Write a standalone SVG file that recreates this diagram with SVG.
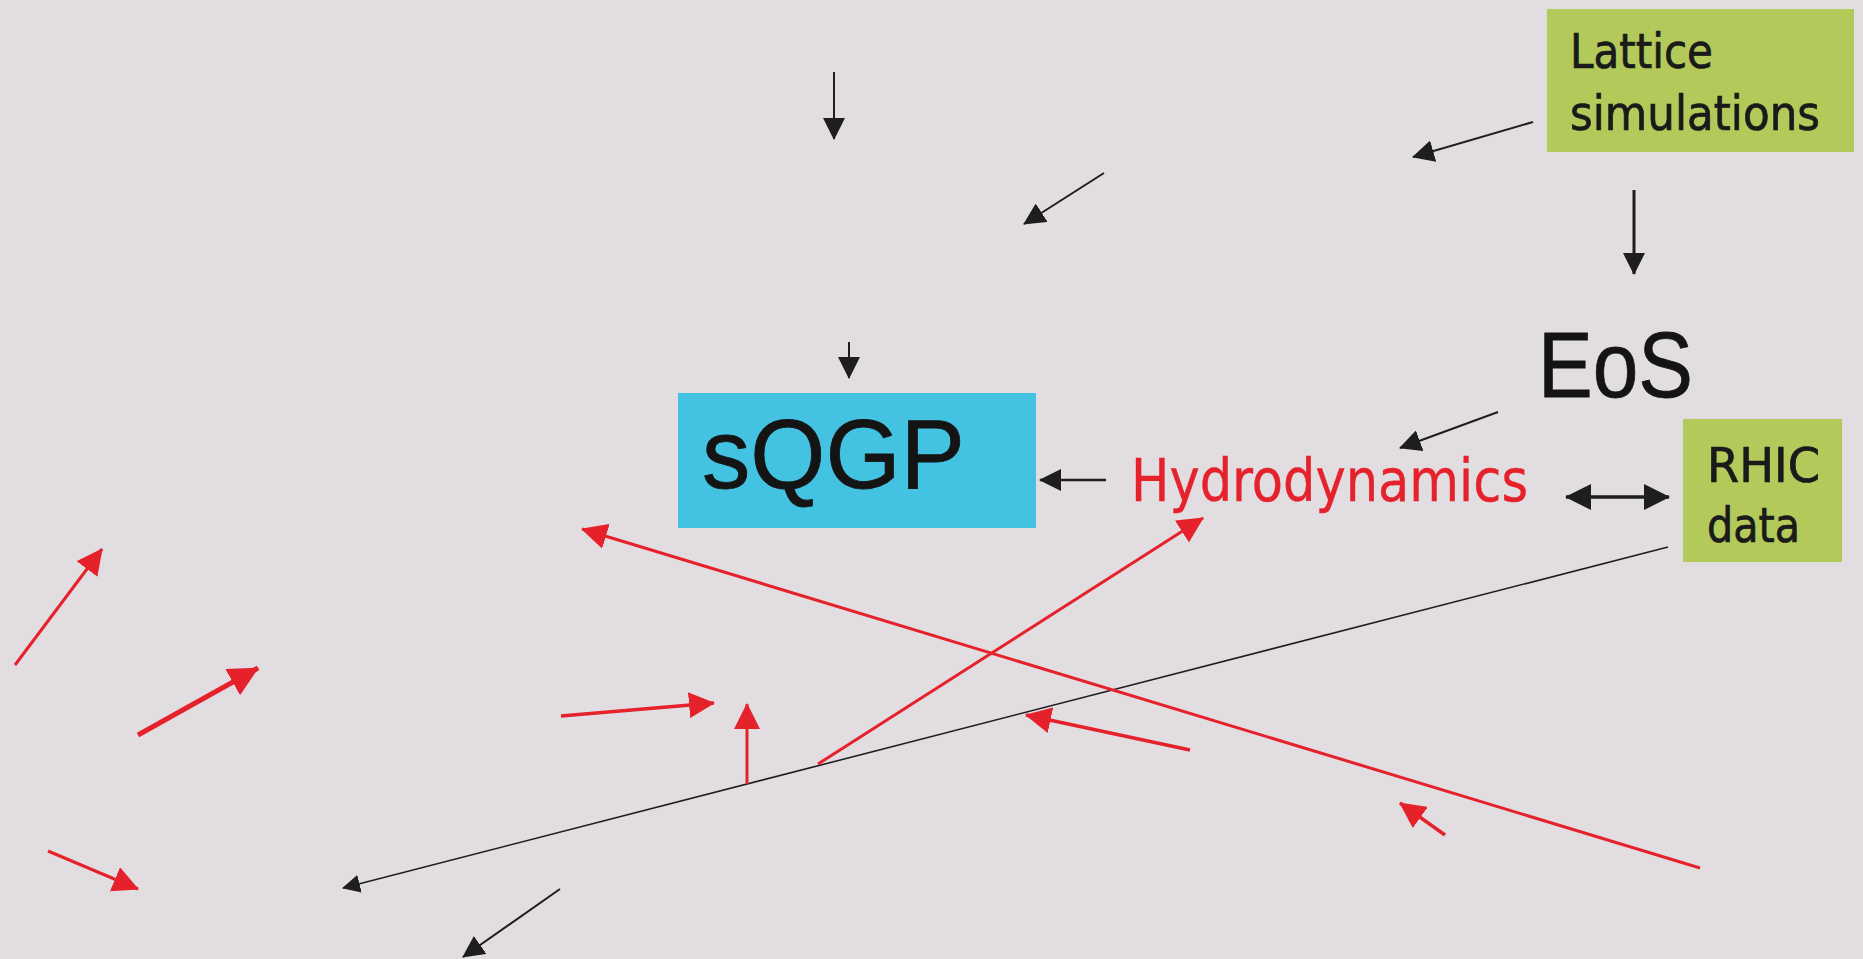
<svg xmlns="http://www.w3.org/2000/svg" width="1863" height="959" viewBox="0 0 1863 959">
  <defs>
    <style>
      .bk { stroke: #1e1e1e; fill: none; }
      .rd { stroke: #e5222b; fill: none; }
      .lbl { font-family: "DejaVu Sans Condensed", "DejaVu Sans", sans-serif; fill: #1a1a1a; stroke: #1a1a1a; stroke-width: 0.7; }
      .red { fill: #e5222b; stroke: #e5222b; stroke-width: 0.4; }
      .big { font-family: "Liberation Sans", Arial, sans-serif; fill: #141414; stroke: #141414; stroke-width: 0.8; }
    </style>
    <marker id="hk" viewBox="0 0 22 22" refX="21" refY="11" markerWidth="22" markerHeight="22" markerUnits="userSpaceOnUse" orient="auto">
      <path d="M0,0 L22,11 L0,22 z" fill="#1e1e1e"/>
    </marker>
    <marker id="hkd" viewBox="0 0 26 26" refX="25" refY="13" markerWidth="26" markerHeight="26" markerUnits="userSpaceOnUse" orient="auto-start-reverse">
      <path d="M0,0 L26,13 L0,26 z" fill="#1e1e1e"/>
    </marker>
    <marker id="hks" viewBox="0 0 18 18" refX="17" refY="9" markerWidth="18" markerHeight="18" markerUnits="userSpaceOnUse" orient="auto">
      <path d="M0,0 L18,9 L0,18 z" fill="#1e1e1e"/>
    </marker>
    <marker id="hr" viewBox="0 0 26 26" refX="25" refY="13" markerWidth="26" markerHeight="26" markerUnits="userSpaceOnUse" orient="auto">
      <path d="M0,0 L26,13 L0,26 z" fill="#e5222b"/>
    </marker>
    <marker id="hrb" viewBox="0 0 30 30" refX="29" refY="15" markerWidth="30" markerHeight="30" markerUnits="userSpaceOnUse" orient="auto">
      <path d="M0,0 L30,15 L0,30 z" fill="#e5222b"/>
    </marker>
  </defs>

  <rect width="1863" height="959" fill="#e2dde1"/>

  <g id="lattice">
    <rect x="1547" y="9" width="307" height="143" fill="#b3ca5b"/>
    <text class="lbl" x="1570" y="68" font-size="48" textLength="143" lengthAdjust="spacingAndGlyphs">Lattice</text>
    <text class="lbl" x="1570" y="130" font-size="48" textLength="250" lengthAdjust="spacingAndGlyphs">simulations</text>
  </g>

  <g id="eos">
    <text class="big" x="1538" y="397" font-size="93" textLength="155" lengthAdjust="spacingAndGlyphs">EoS</text>
  </g>

  <g id="rhic">
    <rect x="1683" y="419" width="159" height="143" fill="#b3ca5b"/>
    <text class="lbl" x="1707" y="482" font-size="48" textLength="113" lengthAdjust="spacingAndGlyphs">RHIC</text>
    <text class="lbl" x="1707" y="542" font-size="48" textLength="93" lengthAdjust="spacingAndGlyphs">data</text>
  </g>

  <g id="sqgp">
    <rect x="678" y="393" width="358" height="135" fill="#44c2e1"/>
    <text class="big" x="702" y="488" font-size="98" textLength="263" lengthAdjust="spacingAndGlyphs">sQGP</text>
  </g>

  <g id="hydro">
    <text class="red" x="1131" y="501" font-size="58" font-family="DejaVu Sans Condensed, DejaVu Sans, sans-serif" textLength="397" lengthAdjust="spacingAndGlyphs">Hydrodynamics</text>
  </g>

  <g id="connectors">
    <!-- black arrows -->
    <line class="bk" x1="834" y1="72" x2="834" y2="139" stroke-width="2" marker-end="url(#hk)"/>
    <line class="bk" x1="1104" y1="173" x2="1024" y2="224" stroke-width="2" marker-end="url(#hk)"/>
    <line class="bk" x1="1533" y1="122" x2="1413" y2="157" stroke-width="2" marker-end="url(#hk)"/>
    <line class="bk" x1="1634" y1="190" x2="1634" y2="274" stroke-width="3" marker-end="url(#hk)"/>
    <line class="bk" x1="849" y1="342" x2="849" y2="378" stroke-width="2" marker-end="url(#hk)"/>
    <line class="bk" x1="1106" y1="480" x2="1040" y2="480" stroke-width="2.5" marker-end="url(#hk)"/>
    <line class="bk" x1="1498" y1="412" x2="1400" y2="448" stroke-width="2" marker-end="url(#hk)"/>
    <line class="bk" x1="1566" y1="497" x2="1669" y2="497" stroke-width="3.5" marker-start="url(#hkd)" marker-end="url(#hkd)"/>
    <line class="bk" x1="1668" y1="547" x2="343" y2="888" stroke-width="1.6" marker-end="url(#hks)"/>
    <line class="bk" x1="560" y1="889" x2="463" y2="957" stroke-width="2" marker-end="url(#hk)"/>

    <!-- red arrows -->
    <line class="rd" x1="1700" y1="868" x2="582" y2="529" stroke-width="3" marker-end="url(#hr)"/>
    <line class="rd" x1="818" y1="764" x2="1203" y2="518" stroke-width="3" marker-end="url(#hr)"/>
    <line class="rd" x1="747" y1="784" x2="747" y2="704" stroke-width="3" marker-end="url(#hr)"/>
    <line class="rd" x1="561" y1="716" x2="714" y2="703" stroke-width="3.5" marker-end="url(#hr)"/>
    <line class="rd" x1="15" y1="665" x2="102" y2="549" stroke-width="3" marker-end="url(#hr)"/>
    <line class="rd" x1="138" y1="735" x2="258" y2="668" stroke-width="5" marker-end="url(#hrb)"/>
    <line class="rd" x1="48" y1="851" x2="138" y2="889" stroke-width="3" marker-end="url(#hr)"/>
    <line class="rd" x1="1190" y1="750" x2="1026" y2="715" stroke-width="3.5" marker-end="url(#hr)"/>
    <line class="rd" x1="1445" y1="835" x2="1400" y2="803" stroke-width="3.5" marker-end="url(#hr)"/>
  </g>
</svg>
